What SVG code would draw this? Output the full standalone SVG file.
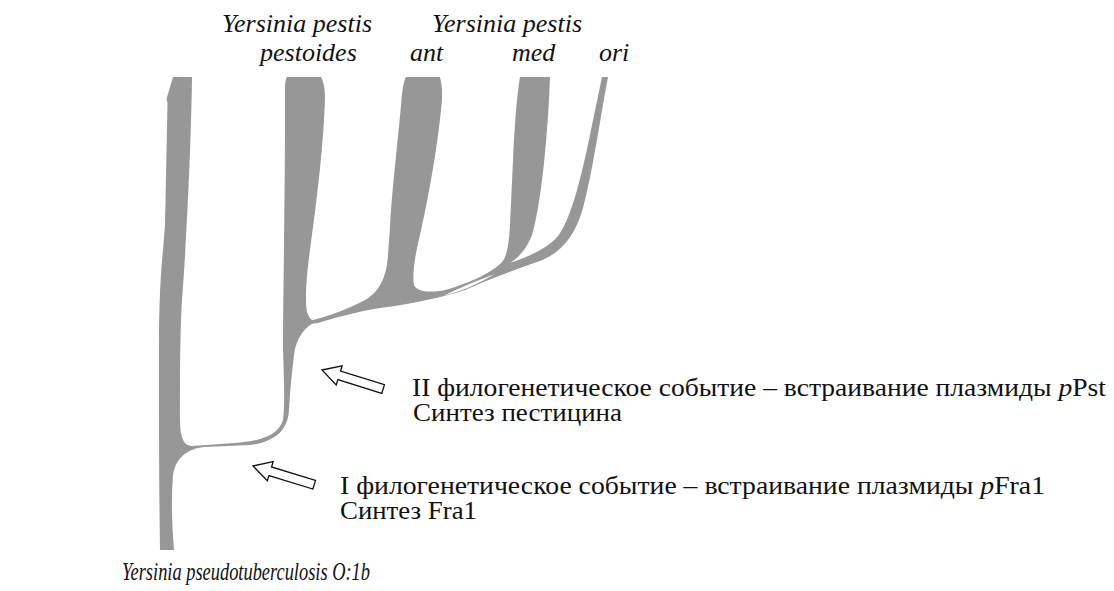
<svg xmlns="http://www.w3.org/2000/svg" width="1114" height="591" viewBox="0 0 1114 591">
<style>
.br{fill:#979797;stroke:none}
.lab{font-style:italic;font-size:26px;fill:#111}
.txt{font-size:25px;fill:#111}
.arr{fill:#fff;stroke:#111;stroke-width:1.3;stroke-linejoin:miter}
</style>
<defs>
<path id="blk" d="M0,0 L18,-10 L18,-4.5 L64,-4.5 L64,4.5 L18,4.5 L18,10 Z"/>
</defs>
<rect width="1114" height="591" fill="#fff"/>
<g id="tree">
<path id="trunk-pestoides" class="br" d="M173,77 L192,77 C191,150 186,250 182,300 C180,330 180,380 180,420 C180,438 184,446 192,446 L235,443 C260,441 278,436 283,420 C285,405 284,380 283,350 C283,300 285,200 285,110 L285,90 C285,82 286,78 287,77 L321,77 C323,80 325,88 325,97 C324,140 317,200 310,250 C306,280 305,300 307,312 C309,318 312,321 316,322 C305,326 296,338 294,355 C292,372 290,390 289,410 C288,430 275,442 250,445 L205,447 C190,448 176,456 173,475 C171,500 172,525 174,550 L160,550 C159,480 159,400 159,350 C159,300 161,270 163,250 L165,225 L167.5,103 L166.5,99 Z"/>
<path id="ant-med-ori" class="br" d="M300,318 L313,320 C330,316 350,308 365,300 C380,292 387,275 388,255 L390,227 C392,190 398,140 401,105 C402,90 404,80 406,77 L440,77 C442,85 443,95 441,110 C437,150 428,200 420,235 C415,255 412,275 414,285 C417,292 430,293 445,290 C470,283 493,272 502,262 C508,255 509,240 510,225 L513,160 C515,120 517,95 520,77 L550,77 C548,130 542,200 532,235 C526,250 518,258 510,263 C530,256 548,248 558,236 C572,218 583,170 592,125 L602,77 L608,77 C600,120 592,175 583,208 C575,236 562,252 540,261 C520,268 495,277 465,290 C440,298 410,304 380,308 C355,312 335,318 318,323 L300,325 Z"/>
<path id="lens" fill="#fff" d="M443,296 Q470,283 495,274 Q468,290 443,296 Z"/>
</g>
<g id="connectors">
<use id="arrow-I" href="#blk" class="arr" transform="translate(253,466) rotate(17)"/>
<use id="arrow-II" href="#blk" class="arr" transform="translate(322,370) rotate(17.3)"/>
</g>
<g id="labels" font-family="Liberation Serif, serif">
<text class="lab" x="222" y="32">Yersinia pestis</text>
<text class="lab" x="260" y="61">pestoides</text>
<text class="lab" x="432" y="32">Yersinia pestis</text>
<text class="lab" x="410" y="61">ant</text>
<text class="lab" x="512" y="61">med</text>
<text class="lab" x="599" y="61">ori</text>
<text class="lab" x="122" y="580" font-size="24" textLength="248" lengthAdjust="spacingAndGlyphs">Yersinia pseudotuberculosis O:1b</text>
</g>
<g id="event-II" font-family="Liberation Serif, serif">
<text class="txt" x="412" y="396" textLength="694" lengthAdjust="spacingAndGlyphs">II филогенетическое событие – встраивание плазмиды <tspan font-style="italic">p</tspan>Pst</text>
<text class="txt" x="413" y="421" textLength="209" lengthAdjust="spacingAndGlyphs">Синтез пестицина</text>
</g>
<g id="event-I" font-family="Liberation Serif, serif">
<text class="txt" x="340" y="494" textLength="705" lengthAdjust="spacingAndGlyphs">I филогенетическое событие – встраивание плазмиды <tspan font-style="italic">p</tspan>Fra1</text>
<text class="txt" x="340" y="519" textLength="137" lengthAdjust="spacingAndGlyphs">Синтез Fra1</text>
</g>
</svg>
